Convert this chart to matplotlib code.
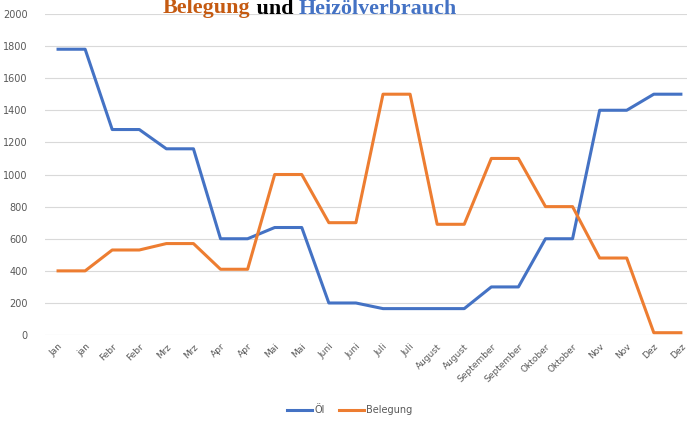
import matplotlib.pyplot as plt

# month labels as they appear on the x axis
months = ['Jan', 'jan', 'Febr', 'Febr', 'Mrz', 'Mrz', 'Apr', 'Apr', 'Mai', 'Mai',
          'Juni', 'Juni', 'Juli', 'Juli', 'August', 'August', 'September', 'September',
          'Oktober', 'Oktober', 'Nov', 'Nov', 'Dez', 'Dez']
oel = [1780, 1780, 1280, 1280, 1160, 1160, 600, 600, 670, 670, 200, 200,
       165, 165, 165, 165, 300, 300, 600, 600, 1400, 1400, 1500, 1500]
belegung = [400, 400, 530, 530, 570, 570, 410, 410, 1000, 1000, 700, 700,
            1500, 1500, 690, 690, 1100, 1100, 800, 800, 480, 480, 15, 15]

blue = '#4472C4'
orange = '#ED7D31'
grey = '#595959'

fig = plt.figure(figsize=(6.87, 4.21), dpi=100)
ax = fig.add_axes([0.0648, 0.204, 0.946, 0.763])

x = list(range(len(months)))
ax.plot(x, oel, color=blue, lw=2.2, label='Öl')
ax.plot(x, belegung, color=orange, lw=2.2, label='Belegung')

ax.set_xlim(-0.5, len(months) - 0.5)
ax.set_ylim(0, 2000)
ax.set_yticks(range(0, 2001, 200))
ax.set_xticks(x)
ax.set_xticklabels(months, rotation=45, ha='right', rotation_mode='anchor')
ax.tick_params(axis='both', length=0, labelsize=7, labelcolor=grey)
ax.tick_params(axis='x', labelsize=6.5, pad=5)
ax.tick_params(axis='y', pad=12)
ax.grid(axis='y', color='#D9D9D9', lw=0.8)
ax.set_axisbelow(True)
for s in ax.spines.values():
    s.set_visible(False)

# title in three colours (top is cut off in the original too)
tfont = dict(family='Liberation Serif', weight='bold', fontsize=15.8)
t1 = fig.text(163 / 687, 1 - 13.5 / 421, 'Belegung', color='#C55A11', va='baseline', **tfont)
t2 = ax.annotate(' und ', xy=(1, 0), xycoords=t1, va='bottom', color='black',
                 annotation_clip=False, **tfont)
t3 = ax.annotate('Heizölverbrauch', xy=(1, 0), xycoords=t2, va='bottom', color=blue,
                 annotation_clip=False, **tfont)

fig.legend(loc='center', bbox_to_anchor=(0.509, 0.026), ncol=2, frameon=False,
           fontsize=7, labelcolor=grey, handlelength=2.6, handletextpad=0.25,
           columnspacing=1.4)

fig.savefig('out.png', dpi=100)
